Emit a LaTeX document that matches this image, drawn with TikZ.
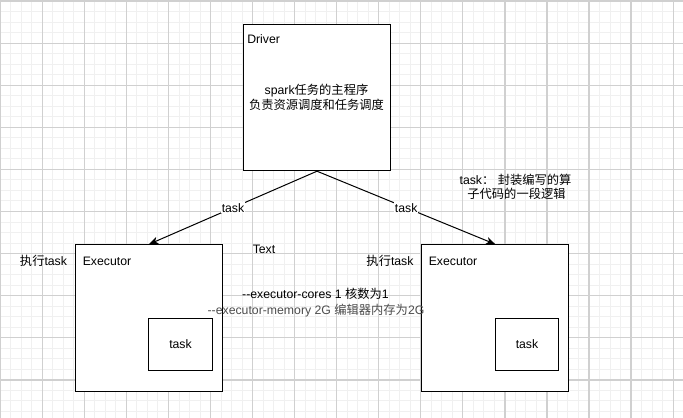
\documentclass[tikz,border=0pt]{standalone}
\usepackage{fontspec}
\setmainfont{Liberation Sans}
\newfontfamily\cjk{Noto Sans CJK SC}
\usetikzlibrary{arrows.meta}
\definecolor{gridminor}{HTML}{F0F0F0}
\definecolor{gridmajor}{HTML}{D0D0D0}
\definecolor{memtext}{HTML}{4D4D4D}
\tikzset{
  minorline/.style={draw=gridminor,line width=0.75pt},
  majorline/.style={draw=gridmajor,line width=0.9pt},
  boxnode/.style={draw=black,fill=white,line width=0.75pt,inner sep=0pt},
  txt/.style={inner sep=0pt,text=black},
  arrowline/.style={draw=black,line width=0.75pt,-{Stealth[length=7pt,width=5.5pt,inset=2pt]}},
  edgelabel/.style={fill=white,inner sep=0.6pt,text=black}
}
\begin{document}
\begin{tikzpicture}[x=0.75pt,y=-0.75pt,font=\fontsize{9.2}{11}\selectfont]
\useasboundingbox (0,0) rectangle (683,418);
\fill[white] (0,0) rectangle (683,418);
% grid
\foreach \i in {0,...,65} { \draw[minorline] ({0.3+\i*10.5125},0) -- ++(0,418); }
\foreach \j in {0,...,40} { \draw[minorline] (0,{1+\j*10.525}) -- ++(683,0); }
\foreach \i in {0,...,16} { \draw[majorline] ({0.3+\i*42.05},0) -- ++(0,418); }
\foreach \j in {0,...,10} { \draw[majorline] (0,{1+\j*42.1}) -- ++(683,0); }
% boxes
\node[boxnode,minimum width=110.5pt,minimum height=109.8pt] (driver) at (317,97.5) {};
\node[boxnode,minimum width=110pt,minimum height=110.2pt] (exl) at (149,318.2) {};
\node[boxnode,minimum width=110.5pt,minimum height=110.2pt] (exr) at (495.3,318.2) {};
\node[boxnode,minimum width=47.7pt,minimum height=39.3pt] (taskl) at (180.5,344.5) {task};
\node[boxnode,minimum width=47.5pt,minimum height=39.3pt] (taskr) at (527,344.5) {task};
% texts
\node[txt,anchor=west] (drvlabel) at (247,39.5) {Driver};
\node[txt] (drvdesc1) at (316.5,91) {spark{\cjk 任务的主程序}};
\node[txt] (drvdesc2) at (316.5,104.5) {{\cjk 负责资源调度和任务调度}};
\node[txt,anchor=west] (exllabel) at (82.5,261) {Executor};
\node[txt,anchor=west] (exrlabel) at (428.5,261) {Executor};
\node[txt] (runl) at (43.5,260.5) {{\cjk 执行}task};
\node[txt] (runr) at (390,260.5) {{\cjk 执行}task};
\node[txt] (textlbl) at (264,249) {Text};
\node[txt] (cores) at (315.5,294) {-{}-executor-cores 1 {\cjk 核数为}1};
\node[txt,text=memtext] (mem) at (316,310.5) {-{}-executor-memory 2G {\cjk 编辑器内存为}2G};
\node[txt] (taskdesc1) at (515.5,180) {task{\cjk ：} {\cjk 封装编写的算}};
\node[txt] (taskdesc2) at (516.5,193.5) {{\cjk 子代码的一段逻辑}};
% connectors
\draw[arrowline] (driver.south) -- node[edgelabel] {task} (exl.north);
\draw[arrowline] (driver.south) -- node[edgelabel] {task} (exr.north);
\end{tikzpicture}
\end{document}
